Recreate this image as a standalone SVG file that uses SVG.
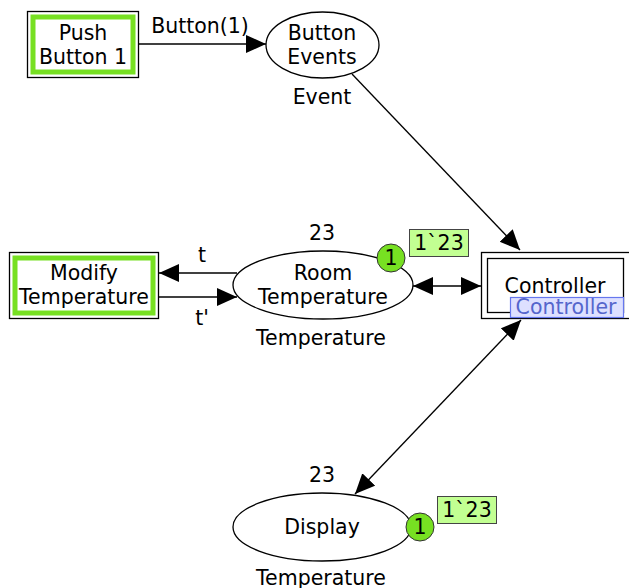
<svg xmlns="http://www.w3.org/2000/svg" width="629" height="588" viewBox="0 0 629 588">
<style>
text{font-family:"DejaVu Sans","Liberation Sans",sans-serif;font-size:20.5px;fill:#000;text-anchor:middle;dominant-baseline:central}
.place{fill:#fff;stroke:#000;stroke-width:1.3}
.outer{fill:#fff;stroke:#000;stroke-width:1.3}
.green{fill:none;stroke:#77e022;stroke-width:5}
.arc{fill:none;stroke:#000;stroke-width:1.3}
.tok{fill:#77e022;stroke:#333;stroke-width:1}
.tokbox{fill:#c2ff92;stroke:#444;stroke-width:1}
.tag{fill:#dde0ff;stroke:#6677ee;stroke-width:1.2}
</style>
<defs>
<marker id="ah" markerUnits="userSpaceOnUse" markerWidth="21" markerHeight="19" refX="20" refY="9" orient="auto-start-reverse" viewBox="0 0 21 19">
<path d="M0,0 L20,9 L0,18 z" fill="#000"/>
</marker>
</defs>
<g id="connectors">
<line class="arc" x1="139" y1="44" x2="266" y2="44" marker-end="url(#ah)"/>
<text x="200" y="26">Button(1)</text>
<line class="arc" x1="352" y1="74" x2="520" y2="250" marker-end="url(#ah)"/>
<line class="arc" x1="237" y1="273" x2="159" y2="273" marker-end="url(#ah)"/>
<text x="202" y="255">t</text>
<line class="arc" x1="159" y1="297" x2="237" y2="297" marker-end="url(#ah)"/>
<text x="202" y="318">t'</text>
<line class="arc" x1="413" y1="286" x2="481" y2="286" marker-start="url(#ah)" marker-end="url(#ah)"/>
<line class="arc" x1="521" y1="320" x2="355" y2="494" marker-start="url(#ah)" marker-end="url(#ah)"/>
</g>
<g id="push-button-1">
<rect class="outer" x="27.5" y="11.5" width="111" height="66"/>
<rect class="green" x="33" y="17" width="100" height="55"/>
<text x="83" y="33">Push</text>
<text x="83" y="57">Button 1</text>
</g>
<g id="button-events">
<ellipse class="place" cx="322.5" cy="45" rx="56.5" ry="33"/>
<text x="322" y="33">Button</text>
<text x="322" y="57">Events</text>
<text x="322" y="97">Event</text>
</g>
<g id="modify-temperature">
<rect class="outer" x="9.5" y="252.5" width="149" height="66"/>
<rect class="green" x="15" y="258" width="138" height="55"/>
<text x="84" y="273">Modify</text>
<text x="84" y="297">Temperature</text>
</g>
<g id="room-temperature">
<ellipse class="place" cx="323" cy="285" rx="90" ry="34"/>
<text x="323" y="273">Room</text>
<text x="323" y="297">Temperature</text>
<text x="322" y="233">23</text>
<text x="321" y="338">Temperature</text>
<circle class="tok" cx="391" cy="258" r="14"/>
<text x="391" y="258">1</text>
<rect class="tokbox" x="409.5" y="229.5" width="59" height="27"/>
<text x="439" y="243">1`23</text>
</g>
<g id="controller">
<rect class="outer" x="481.5" y="252.5" width="150" height="66"/>
<rect class="outer" x="487.5" y="258.5" width="136" height="54"/>
<text x="555" y="286">Controller</text>
<rect class="tag" x="510.5" y="297.5" width="113" height="20"/>
<text x="566" y="307" style="fill:#5566cc">Controller</text>
</g>
<g id="display">
<ellipse class="place" cx="322" cy="527" rx="89" ry="34"/>
<text x="322" y="527">Display</text>
<text x="322" y="475">23</text>
<text x="321" y="578">Temperature</text>
<circle class="tok" cx="420" cy="527" r="14"/>
<text x="420" y="527">1</text>
<rect class="tokbox" x="437.5" y="496.5" width="59" height="27"/>
<text x="467" y="510">1`23</text>
</g>
</svg>
